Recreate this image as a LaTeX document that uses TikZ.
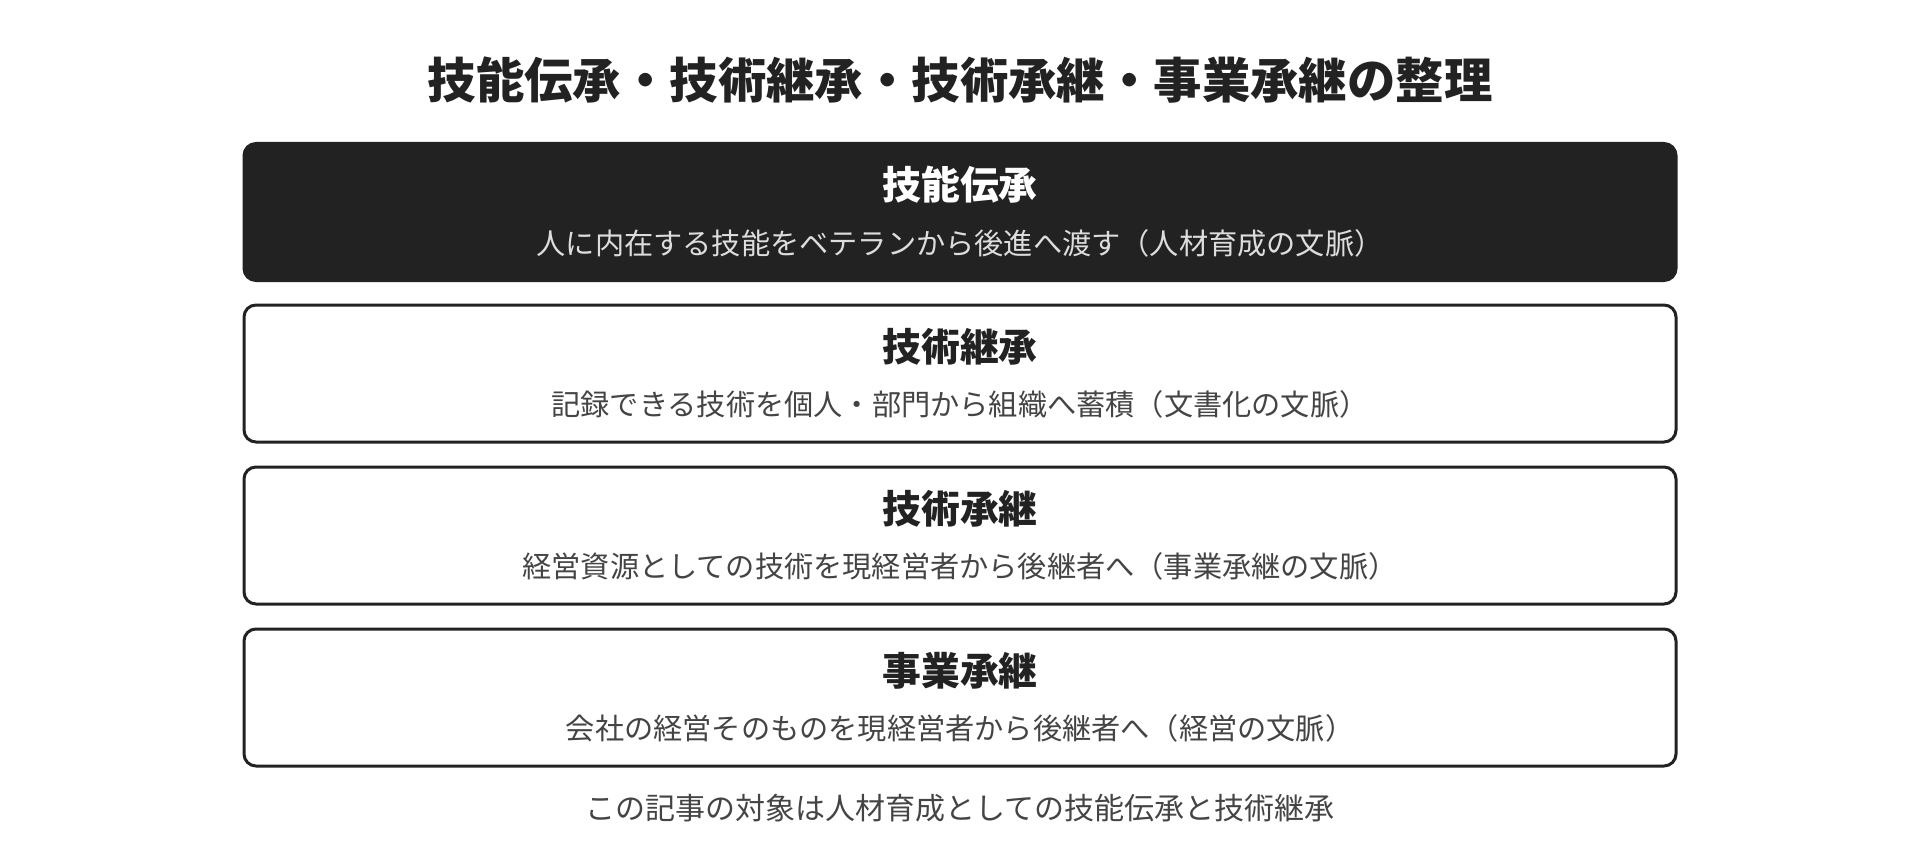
\documentclass[tikz,border=0pt]{standalone}
\usepackage{fontspec}
\setmainfont{Noto Sans CJK JP}
\definecolor{ink}{HTML}{222222}
\definecolor{subgray}{HTML}{444444}
\definecolor{pale}{HTML}{DDDDDD}
\begin{document}
\begin{tikzpicture}[x=.5pt,y=-.5pt,
 box/.style={draw=ink,line width=1.5pt,rounded corners=6pt,minimum width=716pt,minimum height=68.5pt,inner sep=0pt},
 hd/.style={font=\bfseries\fontsize{19.4}{23}\selectfont,text=ink},
 sb/.style={font=\fontsize{14.6}{18}\selectfont,text=subgray}]
\useasboundingbox (0,0) rectangle (1920,866);
\node[font=\bfseries\fontsize{24.2}{28}\selectfont,text=ink] (T) at (960,80) {技能伝承・技術継承・技術承継・事業承継の整理};
\node[box,fill=ink] (A) at (960,212) {};
\node[hd,text=white] (A1) at (960,185) {技能伝承};
\node[sb,text=pale] (A2) at (960,243) {人に内在する技能をベテランから後進へ渡す（人材育成の文脈）};
\foreach \n/\y/\h/\s in {B/373.5/技術継承/記録できる技術を個人・部門から組織へ蓄積（文書化の文脈）,
 C/535.5/技術承継/経営資源としての技術を現経営者から後継者へ（事業承継の文脈）,
 D/697.5/事業承継/会社の経営そのものを現経営者から後継者へ（経営の文脈）}
 {\node[box,fill=white] (\n) at (960,\y) {};
  \node[hd] (\n1) at (960,\y-26.5) {\h};
  \node[sb] (\n2) at (960,\y+31) {\s};}
\node[sb,font=\fontsize{15}{18}\selectfont] (F) at (960,808) {この記事の対象は人材育成としての技能伝承と技術継承};
\end{tikzpicture}
\end{document}
